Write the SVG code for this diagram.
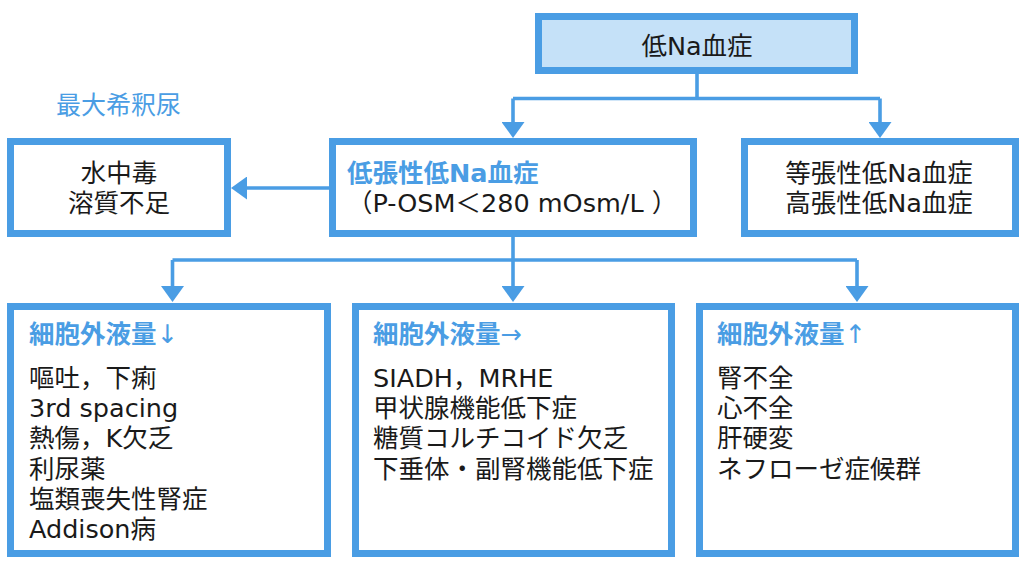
<svg xmlns="http://www.w3.org/2000/svg" width="1024" height="566" viewBox="0 0 1024 566">
<style>
.box{fill:#ffffff;stroke:#4a9de4;stroke-width:7}
.root{fill:#c5e1f8;stroke:#4a9de4;stroke-width:7}
.t{font-family:"DejaVu Sans","Noto Sans CJK JP",sans-serif;font-size:25.5px;fill:#1a1a1a}
.b{fill:#4a9de4}
.bold{font-weight:bold}
.nw{font-weight:normal}
.c{text-anchor:middle}
.ln{fill:none;stroke:#4a9de4;stroke-width:3.6}
</style>
<defs>
<marker id="ah" viewBox="0 0 16 23" markerWidth="16" markerHeight="23" refX="8" refY="11.5" orient="auto" markerUnits="userSpaceOnUse">
<path d="M0,0 L16,11.5 L0,23 Z" fill="#4a9de4"/>
</marker>
</defs>
<rect width="1024" height="566" fill="#ffffff"/>
<g id="connectors">
<path class="ln" d="M697,74 V98.5"/>
<path class="ln" d="M513,98.5 H880"/>
<path class="ln" d="M513,98.5 V130" marker-end="url(#ah)"/>
<path class="ln" d="M880,98.5 V130" marker-end="url(#ah)"/>
<path class="ln" d="M329,188 H239" marker-end="url(#ah)"/>
<path class="ln" d="M513,237 V260"/>
<path class="ln" d="M172.5,260 H857"/>
<path class="ln" d="M172.5,260 V294" marker-end="url(#ah)"/>
<path class="ln" d="M513,260 V294" marker-end="url(#ah)"/>
<path class="ln" d="M857,260 V294" marker-end="url(#ah)"/>
</g>
<g id="label-max-dilute">
<text class="t b" x="56" y="114" style="font-size:25px">最大希釈尿</text>
</g>
<g id="node-hyponatremia">
<rect class="root" x="538.5" y="16.5" width="316" height="54"/>
<text class="t c" x="697" y="54.5">低Na血症</text>
</g>
<g id="node-water">
<rect class="box" x="10.5" y="141.5" width="217" height="92"/>
<text class="t c" x="119" y="181.7">水中毒</text>
<text class="t c" x="119" y="211.7">溶質不足</text>
</g>
<g id="node-hypotonic">
<rect class="box" x="332.5" y="141.5" width="361" height="92"/>
<text class="t b bold" x="347" y="181.7">低張性低Na血症</text>
<text class="t" x="347" y="211.7">（P-OSM＜280 mOsm/L ）</text>
</g>
<g id="node-iso-hyper">
<rect class="box" x="744.5" y="141.5" width="271" height="92"/>
<text class="t c" x="879" y="181.7">等張性低Na血症</text>
<text class="t c" x="879" y="211.7">高張性低Na血症</text>
</g>
<g id="node-ecf-down">
<rect class="box" x="10.5" y="306.5" width="317" height="247"/>
<text class="t b bold" x="29" y="342.5">細胞外液量<tspan class="nw">↓</tspan></text>
<text class="t" x="29" y="386.7">嘔吐，下痢</text>
<text class="t" x="29" y="417">3rd spacing</text>
<text class="t" x="29" y="447.3">熱傷，K欠乏</text>
<text class="t" x="29" y="477.6">利尿薬</text>
<text class="t" x="29" y="507.9">塩類喪失性腎症</text>
<text class="t" x="29" y="538.2">Addison病</text>
</g>
<g id="node-ecf-normal">
<rect class="box" x="355.5" y="306.5" width="316" height="247"/>
<text class="t b bold" x="373" y="342.5">細胞外液量<tspan class="nw">→</tspan></text>
<text class="t" x="373" y="386.7">SIADH，MRHE</text>
<text class="t" x="373" y="417">甲状腺機能低下症</text>
<text class="t" x="373" y="447.3">糖質コルチコイド欠乏</text>
<text class="t" x="373" y="477.6">下垂体・副腎機能低下症</text>
</g>
<g id="node-ecf-up">
<rect class="box" x="699.5" y="306.5" width="316" height="247"/>
<text class="t b bold" x="717" y="342.5">細胞外液量<tspan class="nw">↑</tspan></text>
<text class="t" x="717" y="386.7">腎不全</text>
<text class="t" x="717" y="417">心不全</text>
<text class="t" x="717" y="447.3">肝硬変</text>
<text class="t" x="717" y="477.6">ネフローゼ症候群</text>
</g>
</svg>
